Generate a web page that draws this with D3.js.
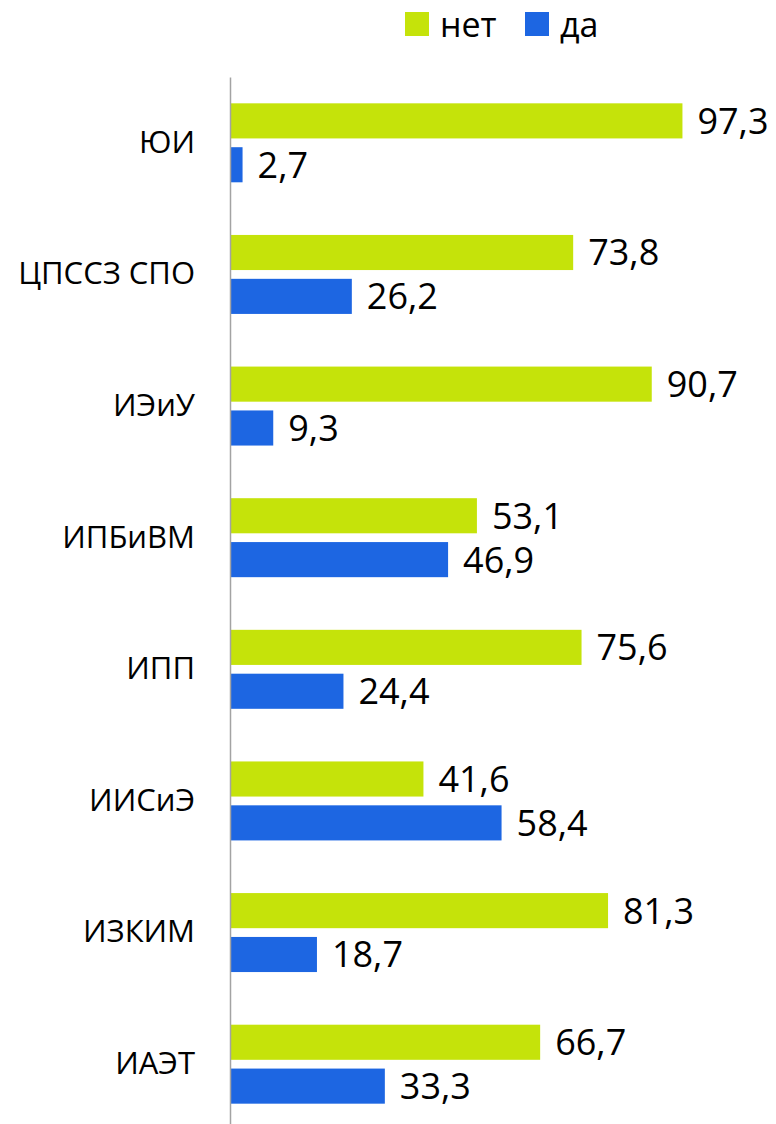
<!DOCTYPE html>
<html>
<head>
    <meta charset="utf-8">
    <script src="https://d3js.org/d3.v7.min.js"></script>
    <style>
        body{
            margin: 0;
            background: white;
        }
        text{
            font-family: "Open Sans", "Noto Sans", sans-serif;
            fill: black;
        }
    </style>
</head>
<body>
    <div class="graph"></div>
    <script>
        const categories = ['ЮИ', 'ЦПССЗ СПО', 'ИЭиУ', 'ИПБиВМ', 'ИПП', 'ИИСиЭ', 'ИЗКИМ', 'ИАЭТ']
        const seriesNames = ['нет', 'да']
        const netValues = [97.3, 73.8, 90.7, 53.1, 75.6, 41.6, 81.3, 66.7]
        const daValues = [2.7, 26.2, 9.3, 46.9, 24.4, 58.4, 18.7, 33.3]
        const colours = ['#c5e30a', '#1d66e2']

        const w = 776
        const h = 1124
        const left = 230

        const rows = categories.map((c, i) => ({
            cat: c,
            vals: [
                {key: 'нет', v: netValues[i]},
                {key: 'да', v: daValues[i]}
            ]
        }))

        const svg = d3.select('.graph')
            .append('svg')
            .attr('width', w)
            .attr('height', h)

        const xScale = d3.scaleLinear()
            .domain([0, 100])
            .range([left, left + 465])

        const y0 = d3.scaleBand()
            .domain(categories)
            .range([77, 1130])
            .paddingInner(0.4)
            .paddingOuter(0.2)

        const y1 = d3.scaleBand()
            .domain(seriesNames)
            .range([0, y0.bandwidth()])
            .paddingInner(0.2)

        const colour = d3.scaleOrdinal()
            .domain(seriesNames)
            .range(colours)

        const fmt = v => d3.format('.1f')(v).replace('.', ',')

        const groups = svg.selectAll('.group')
            .data(rows)
            .enter()
            .append('g')
            .attr('class', 'group')
            .attr('transform', d => 'translate(0,' + y0(d.cat) + ')')

        groups.selectAll('rect')
            .data(d => d.vals)
            .enter()
            .append('rect')
            .attr('x', xScale(0))
            .attr('y', d => y1(d.key))
            .attr('width', d => xScale(d.v) - xScale(0))
            .attr('height', y1.bandwidth())
            .style('fill', d => colour(d.key))

        groups.selectAll('.val')
            .data(d => d.vals)
            .enter()
            .append('text')
            .attr('class', 'val')
            .attr('x', d => xScale(d.v) + 15)
            .attr('y', d => y1(d.key) + y1.bandwidth() / 2)
            .attr('dy', '0.36em')
            .style('font-size', '36px')
            .text(d => fmt(d.v))

        // category axis (the vertical line + labels)
        const yAxis = d3.axisLeft(y0)
            .tickSize(0)
            .tickSizeOuter(0)
            .tickPadding(35)

        const ax = svg.append('g')
            .attr('transform', 'translate(' + left + ',0)')
            .call(yAxis)
        ax.select('.domain')
            .attr('stroke', '#a3a3a3')
            .attr('stroke-width', 1.5)
        ax.selectAll('text')
            .style('font-size', '31px')
            .style('font-family', '"Open Sans", "Noto Sans", sans-serif')
            .attr('fill', 'black')

        // legend
        const legend = svg.append('g')
            .attr('id', 'legend')
        const legendX = [405, 525]
        const item = legend.selectAll('g')
            .data(seriesNames)
            .enter()
            .append('g')
            .attr('transform', (d, i) => 'translate(' + legendX[i] + ',12)')
        item.append('rect')
            .attr('width', 24)
            .attr('height', 24)
            .style('fill', d => colour(d))
        item.append('text')
            .attr('x', 35)
            .attr('y', 25)
            .style('font-size', '34px')
            .text(d => d)
    </script>
</body>
</html>
